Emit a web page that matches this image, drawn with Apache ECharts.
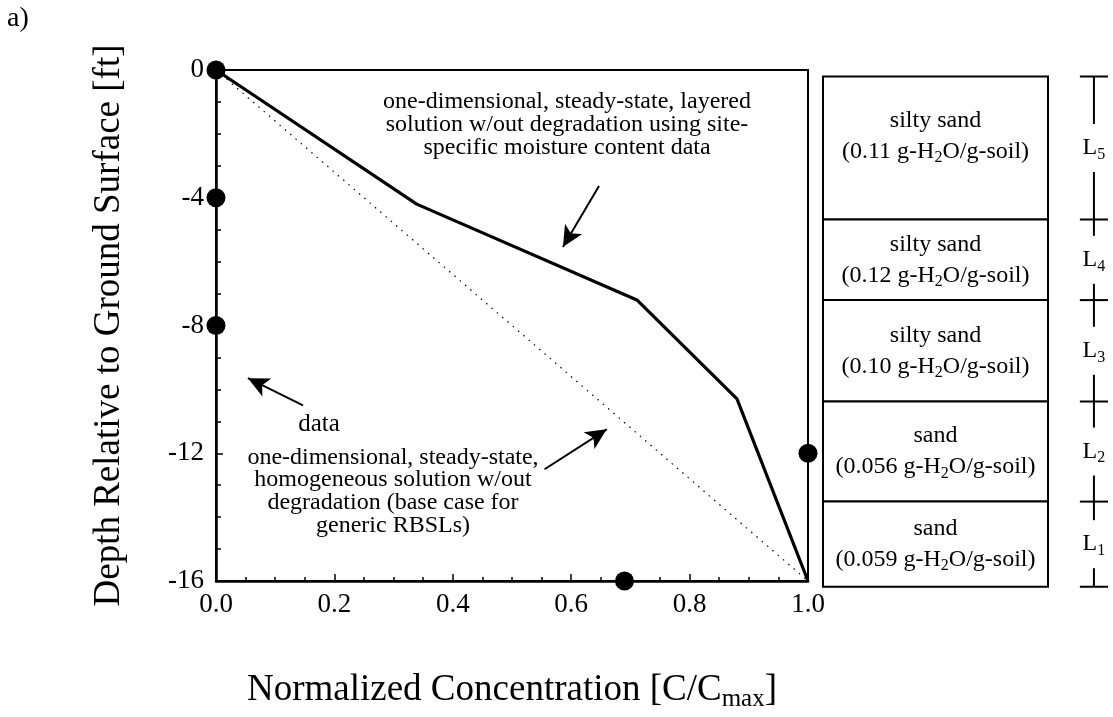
<!DOCTYPE html>
<html>
<head>
<meta charset="utf-8">
<script src="https://cdn.jsdelivr.net/npm/echarts@6/dist/echarts.min.js"></script>
<style>
html,body{margin:0;padding:0;background:#fff;}
#chart{width:1113px;height:717px;}
</style>
</head>
<body>
<div id="chart"></div>
<script>
// ---- data ----
var xTicks = [0, 0.2, 0.4, 0.6, 0.8, 1.0];
var yTicks = [0, -4, -8, -12, -16];
var dataX = [0, 0, 0, 1.0, 0.69];
var dataY = [0, -4, -8, -12, -16];
var layeredX = [0, 0.339, 0.711, 0.880, 1.0];
var layeredY = [0, -4.2, -7.2, -10.3, -16];
var homogX = [0, 1.0];
var homogY = [0, -16];
var layerTop = [-0.2, -4.6, -7.08, -10.2, -13.28];
var layerBottom = [-4.6, -7.08, -10.2, -13.28, -15.9];
var layerSoil = ['silty sand', 'silty sand', 'silty sand', 'sand', 'sand'];
var layerMoisture = ['0.11', '0.12', '0.10', '0.056', '0.059'];
var layerName = ['5', '4', '3', '2', '1'];
var annotLayered = ['one-dimensional, steady-state, layered', 'solution w/out degradation using site-', 'specific moisture content data'];
var annotHomog = ['one-dimensional, steady-state,', 'homogeneous solution w/out', 'degradation (base case for', 'generic RBSLs)'];
var arrows = [
  [[0.647, -3.63], [0.586, -5.54]],
  [[0.555, -12.5], [0.66, -11.25]],
  [[0.147, -10.5], [0.054, -9.65]]
];

var FONT = '"Liberation Serif", "Times New Roman", serif';
var chart = echarts.init(document.getElementById('chart'));

function zip(a, b) { return a.map(function (v, i) { return [v, b[i]]; }); }

var boxRight = 0.784;
var markX = 0.944;
var markHalf = 0.049;

function renderLayer(params, api) {
  var top = api.value(0), bot = api.value(1), i = api.value(2);
  var p0 = api.coord([0, top]);
  var p1 = api.coord([boxRight, bot]);
  var cx = (p0[0] + p1[0]) / 2;
  var cy = (p0[1] + p1[1]) / 2;
  if (i === 0) cy -= 12;
  var mx = api.coord([markX, 0])[0];
  var mh = api.coord([markX + markHalf, 0])[0] - mx;
  var labY = (p0[1] + p1[1]) / 2;
  var gap = 24;
  var ls = { stroke: '#000', lineWidth: 2 };
  var children = [
    { type: 'rect', shape: { x: p0[0], y: p0[1], width: p1[0] - p0[0], height: p1[1] - p0[1] },
      style: { fill: '#fff', stroke: '#000', lineWidth: 2 } },
    { type: 'text', style: {
        text: layerSoil[i] + '\n(' + layerMoisture[i] + ' g-H{sub|2}O/g-soil)',
        x: cx, y: cy, align: 'center', verticalAlign: 'middle',
        font: '24px ' + FONT, fill: '#000', lineHeight: 31,
        rich: { sub: { fontSize: 16, fontFamily: 'Liberation Serif', padding: [13, 0, 0, 0], lineHeight: 31 } }
    } },
    { type: 'line', shape: { x1: mx - mh, y1: p0[1], x2: mx + mh, y2: p0[1] }, style: ls },
    { type: 'line', shape: { x1: mx, y1: p0[1], x2: mx, y2: labY - gap }, style: ls },
    { type: 'line', shape: { x1: mx, y1: labY + gap, x2: mx, y2: p1[1] }, style: ls },
    { type: 'text', style: {
        text: 'L{sub|' + layerName[i] + '}', x: mx, y: labY, align: 'center', verticalAlign: 'middle',
        font: '24px ' + FONT, fill: '#000',
        rich: { sub: { fontSize: 16, fontFamily: 'Liberation Serif', padding: [13, 0, 0, 0] } }
    } }
  ];
  if (i === layerTop.length - 1) {
    children.push({ type: 'line', shape: { x1: mx - mh, y1: p1[1], x2: mx + mh, y2: p1[1] }, style: ls });
  }
  return { type: 'group', children: children };
}

function textGraphic(lines, x, y, lh) {
  return {
    type: 'text', x: x, y: y, z: 100,
    style: { text: lines.join('\n'), font: '24px ' + FONT, fill: '#000', align: 'center', verticalAlign: 'top', lineHeight: lh }
  };
}

var option = {
  animation: false,
  backgroundColor: '#fff',
  grid: [
    { left: 216, right: 305, top: 70, bottom: 127, show: true, borderColor: '#000', borderWidth: 2, backgroundColor: 'transparent' },
    { left: 823, right: 3, top: 70, bottom: 127, show: false }
  ],
  xAxis: [
    {
      gridIndex: 0, type: 'value', min: xTicks[0], max: xTicks[xTicks.length - 1], interval: 0.2,
      name: 'Normalized Concentration [C/C{sub|max}]', nameLocation: 'middle', nameGap: 88,
      nameTextStyle: { fontFamily: FONT, fontSize: 37, color: '#000',
        rich: { sub: { fontFamily: FONT, fontSize: 25, color: '#000', padding: [18, 0, 0, 0] } } },
      axisLine: { show: true, onZero: false, lineStyle: { color: '#000', width: 2.5 } },
      axisTick: { show: true, inside: true, length: 7, lineStyle: { color: '#000', width: 1.5 } },
      minorTick: { show: true, splitNumber: 4, length: 4, lineStyle: { color: '#000', width: 1.5 } },
      splitLine: { show: false },
      axisLabel: { fontFamily: FONT, fontSize: 27, color: '#000', margin: 10,
        formatter: function (v) { return v.toFixed(1); } }
    },
    { gridIndex: 1, type: 'value', min: 0, max: 1, show: false }
  ],
  yAxis: [
    {
      gridIndex: 0, type: 'value', min: yTicks[yTicks.length - 1], max: yTicks[0], interval: 4,
      name: 'Depth Relative to Ground Surface [ft]', nameLocation: 'middle', nameGap: 88,
      nameTextStyle: { fontFamily: FONT, fontSize: 37, color: '#000' },
      axisLine: { show: true, onZero: false, lineStyle: { color: '#000', width: 2.5 } },
      axisTick: { show: true, inside: true, length: 7, lineStyle: { color: '#000', width: 1.5 } },
      minorTick: { show: true, splitNumber: 4, length: 5, lineStyle: { color: '#000', width: 1.5 } },
      splitLine: { show: false },
      axisLabel: { fontFamily: FONT, fontSize: 27, color: '#000', margin: 12 }
    },
    { gridIndex: 1, type: 'value', min: -16, max: 0, show: false }
  ],
  graphic: [
    { type: 'text', x: 7, y: 5, style: { text: 'a)', font: '28px ' + FONT, fill: '#000' } },
    textGraphic(annotLayered, 567, 90, 23),
    textGraphic(annotHomog, 393, 446, 22.7),
    { type: 'text', x: 319, y: 424, z: 100, style: { text: 'data', font: '25px ' + FONT, fill: '#000', align: 'center', verticalAlign: 'middle' } }
  ],
  series: [
    {
      type: 'line', xAxisIndex: 0, yAxisIndex: 0, data: zip(homogX, homogY),
      showSymbol: false, symbol: 'none',
      lineStyle: { color: '#000', width: 1.2, type: [1.5, 5.5] }, z: 2
    },
    {
      type: 'line', xAxisIndex: 0, yAxisIndex: 0, data: zip(layeredX, layeredY),
      showSymbol: false, symbol: 'none', clip: false,
      lineStyle: { color: '#000', width: 3.2 }, z: 3,
      markLine: {
        silent: true, animation: false, symbol: ['none', 'arrow'], symbolSize: [15, 21],
        label: { show: false },
        lineStyle: { color: '#000', width: 2, type: 'solid' },
        data: arrows.map(function (a) { return [{ coord: a[0] }, { coord: a[1] }]; })
      }
    },
    {
      type: 'scatter', xAxisIndex: 0, yAxisIndex: 0, data: zip(dataX, dataY),
      symbol: 'circle', symbolSize: 19, clip: false,
      itemStyle: { color: '#000', opacity: 1 }, z: 5
    },
    {
      type: 'custom', xAxisIndex: 1, yAxisIndex: 1, clip: false,
      data: layerTop.map(function (t, i) { return [t, layerBottom[i], i]; }),
      renderItem: renderLayer, silent: true
    }
  ]
};
chart.setOption(option);
</script>
</body>
</html>
